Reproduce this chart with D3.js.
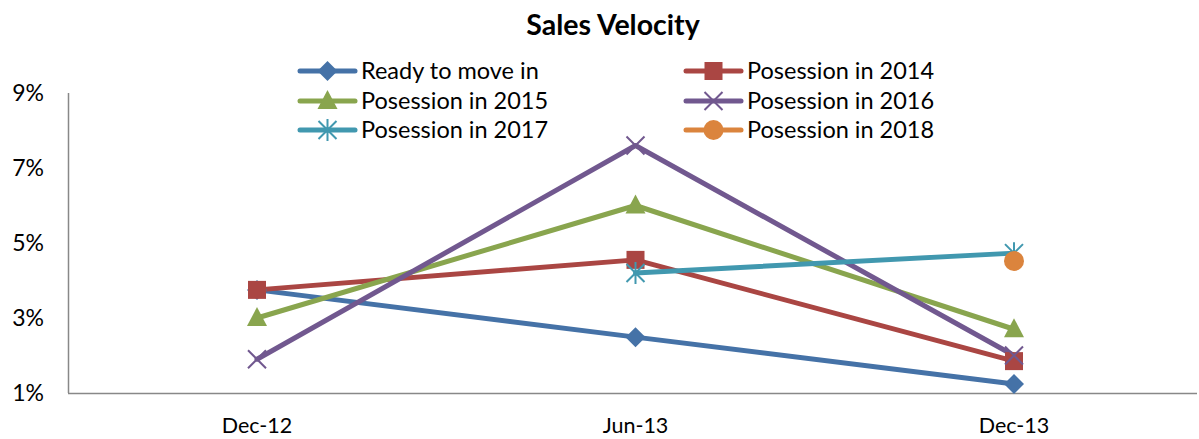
<!DOCTYPE html>
<html><head><meta charset="utf-8">
<script src="https://cdn.jsdelivr.net/npm/d3@7"></script>
<style>body{margin:0;background:#fff}svg{display:block}text{font-family:Lato,"Open Sans",sans-serif}</style>
</head><body>
<svg id="c" width="1199" height="439"></svg>
<script>
const categories = ["Dec-12","Jun-13","Dec-13"];
const seriesNames = ["Ready to move in","Posession in 2014","Posession in 2015","Posession in 2016","Posession in 2017","Posession in 2018"];
const readyToMove = [3.75, 2.49, 1.24];
const pos2014 = [3.75, 4.55, 1.85];
const pos2015 = [3.0, 6.0, 2.7];
const pos2016 = [1.9, 7.6, 2.0];
const pos2017 = [null, 4.2, 4.73];
const pos2018 = [null, null, 4.52];
const yTicks = [1,3,5,7,9];
const colors = ["#4572A7","#AA4643","#89A54E","#71588F","#4198AF","#DB843D"];
const markers = ["diamond","square","triangle","x","star","circle"];
const allValues = [readyToMove,pos2014,pos2015,pos2016,pos2017,pos2018];

const svg = d3.select("#c");
const x = d3.scalePoint().domain(categories).range([257,1014]);
const y = d3.scaleLinear().domain([1,9]).range([393,93]);

svg.append("text").attr("x",613).attr("y",35).attr("text-anchor","middle")
  .attr("font-size",28.5).attr("font-weight","bold").text("Sales Velocity");

// axes
svg.append("line").attr("x1",68.5).attr("x2",68.5).attr("y1",y(9)).attr("y2",y(1)).attr("stroke","#888").attr("stroke-width",1.5);
svg.append("line").attr("x1",68).attr("x2",1197).attr("y1",393.5).attr("y2",393.5).attr("stroke","#888").attr("stroke-width",1.5);
svg.selectAll(".yt").data(yTicks).enter().append("text")
  .attr("x",44).attr("y",d=>y(d)+8).attr("text-anchor","end").attr("font-size",23).attr("fill","#000")
  .text(d=>d+"%");
svg.selectAll(".xt").data(categories).enter().append("text")
  .attr("x",d=>x(d)).attr("y",433).attr("text-anchor","middle").attr("font-size",21.5).attr("fill","#000")
  .text(d=>d);

function drawMarker(g, type, cx, cy, color){
  const s = g.append("g").attr("transform",`translate(${cx},${cy})`);
  if(type==="diamond") s.append("path").attr("d","M0,-10L10,0L0,10L-10,0Z").attr("fill",color);
  else if(type==="square") s.append("rect").attr("x",-9).attr("y",-9).attr("width",18).attr("height",18).attr("fill",color);
  else if(type==="triangle") s.append("path").attr("d","M0,-11L10,8L-10,8Z").attr("fill",color);
  else if(type==="x") s.append("path").attr("d","M-9,-9L9,9M-9,9L9,-9").attr("stroke",color).attr("stroke-width",2);
  else if(type==="star") s.append("path").attr("d","M-9,-9L9,9M-9,9L9,-9M0,-11V11").attr("stroke",color).attr("stroke-width",2);
  else if(type==="circle") s.append("circle").attr("r",10).attr("fill",color);
}

const line = d3.line().defined(d=>d.v!=null).x(d=>x(d.c)).y(d=>y(d.v));
allValues.forEach((vals,i)=>{
  const data = vals.map((v,j)=>({c:categories[j],v}));
  svg.append("path").datum(data).attr("d",line).attr("fill","none")
    .attr("stroke",colors[i]).attr("stroke-width",5).attr("stroke-linejoin","round").attr("stroke-linecap","round");
});
allValues.forEach((vals,i)=>{
  vals.forEach((v,j)=>{ if(v!=null) drawMarker(svg, markers[i], x(categories[j]), y(v), colors[i]); });
});

// legend
const legX = [300, 686], legY = [71, 101, 130];
seriesNames.forEach((n,i)=>{
  const lx = legX[i%2], ly = legY[Math.floor(i/2)];
  const g = svg.append("g");
  g.append("line").attr("x1",lx).attr("x2",lx+55).attr("y1",ly).attr("y2",ly)
    .attr("stroke",colors[i]).attr("stroke-width",5).attr("stroke-linecap","round");
  drawMarker(g, markers[i], lx+27.5, ly, colors[i]);
  g.append("text").attr("x",lx+61).attr("y",ly+8).attr("font-size",23.5).attr("fill","#000").text(n);
});
</script>
</body></html>
